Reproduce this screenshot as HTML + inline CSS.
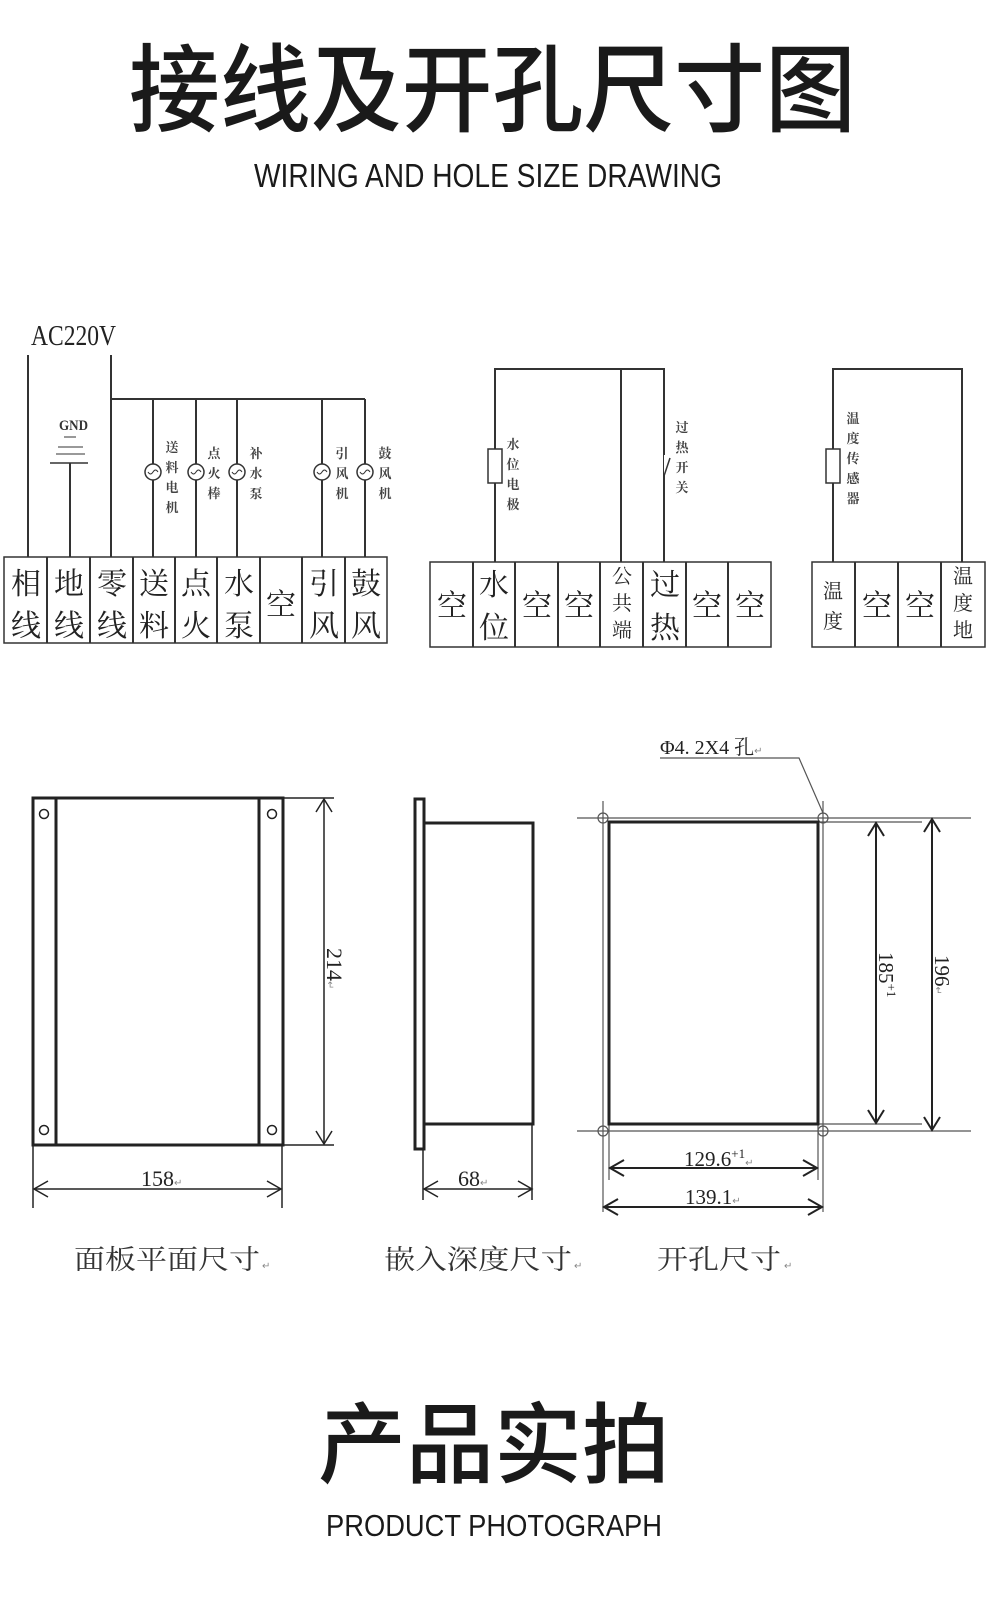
<!DOCTYPE html>
<html><head><meta charset="utf-8"><style>
html,body{margin:0;padding:0;background:#fff;}
svg{display:block;}
.cj{font-family:"Liberation Serif","Noto Serif CJK SC",serif;}
.sn{font-family:"Liberation Sans","Noto Sans CJK SC",sans-serif;}
</style></head><body>
<svg width="1000" height="1608" viewBox="0 0 1000 1608" xmlns="http://www.w3.org/2000/svg">
<rect width="1000" height="1608" fill="#fff"/>
<!-- Titles -->
<text x="129" y="124" font-size="96" font-weight="500" fill="#1a1a1a" textLength="727" lengthAdjust="spacingAndGlyphs" font-family="Liberation Sans, Noto Sans CJK SC, sans-serif">接线及开孔尺寸图</text>
<text x="254" y="187" font-family="Liberation Sans, sans-serif" font-size="33" fill="#1a1a1a" textLength="468" lengthAdjust="spacingAndGlyphs">WIRING AND HOLE SIZE DRAWING</text>
<text x="318" y="1476" font-family="Liberation Sans, Noto Sans CJK SC, sans-serif" font-size="88" font-weight="500" fill="#1a1a1a" textLength="352" lengthAdjust="spacingAndGlyphs">产品实拍</text>
<text x="326" y="1536" font-family="Liberation Sans, sans-serif" font-size="31" fill="#1a1a1a" textLength="336" lengthAdjust="spacingAndGlyphs">PRODUCT PHOTOGRAPH</text>

<g stroke="#333" stroke-width="2" fill="none">
<!-- block1 wiring -->
<line x1="28" y1="355" x2="28" y2="557"/>
<line x1="111" y1="355" x2="111" y2="557"/>
<line x1="111" y1="399" x2="365" y2="399"/>
<line x1="153" y1="399" x2="153" y2="557"/>
<line x1="196" y1="399" x2="196" y2="557"/>
<line x1="237" y1="399" x2="237" y2="557"/>
<line x1="322" y1="399" x2="322" y2="557"/>
<line x1="365" y1="399" x2="365" y2="557"/>
<line x1="70" y1="463" x2="70" y2="557"/>
<line x1="64" y1="437" x2="76" y2="437" stroke-width="1"/>
<line x1="58" y1="447" x2="83" y2="447" stroke-width="1"/>
<line x1="56" y1="454" x2="85" y2="454" stroke-width="1"/>
<line x1="50" y1="463" x2="88" y2="463" stroke-width="1.5"/>
<g fill="#fff" stroke-width="1.5">
<circle cx="153" cy="472" r="8"/><circle cx="196" cy="472" r="8"/><circle cx="237" cy="472" r="8"/><circle cx="322" cy="472" r="8"/><circle cx="365" cy="472" r="8"/>
</g>
<g stroke-width="1">
<path d="M148 472 q2.5 4 5 0 q2.5 -4 5 0"/><path d="M191 472 q2.5 4 5 0 q2.5 -4 5 0"/><path d="M232 472 q2.5 4 5 0 q2.5 -4 5 0"/><path d="M317 472 q2.5 4 5 0 q2.5 -4 5 0"/><path d="M360 472 q2.5 4 5 0 q2.5 -4 5 0"/>
</g>
<rect x="4" y="557" width="383" height="86" stroke-width="1.5"/>
<line x1="47" y1="557" x2="47" y2="643"/><line x1="90" y1="557" x2="90" y2="643"/><line x1="133" y1="557" x2="133" y2="643"/><line x1="175" y1="557" x2="175" y2="643"/><line x1="217" y1="557" x2="217" y2="643"/><line x1="260" y1="557" x2="260" y2="643"/><line x1="302" y1="557" x2="302" y2="643"/><line x1="345" y1="557" x2="345" y2="643"/>

<!-- block2 -->
<path d="M495 562 V369 H664 V562"/>
<line x1="621" y1="369" x2="621" y2="562"/>
<rect x="488" y="449" width="14" height="34" fill="#fff" stroke-width="1.5"/>
<rect x="664" y="455" width="4" height="20" fill="#fff" stroke="none"/>
<line x1="664" y1="476" x2="670" y2="458" stroke-width="1.5"/>
<rect x="430" y="562" width="341" height="85" stroke-width="1.5"/>
<line x1="473" y1="562" x2="473" y2="647"/><line x1="515" y1="562" x2="515" y2="647"/><line x1="558" y1="562" x2="558" y2="647"/><line x1="600" y1="562" x2="600" y2="647"/><line x1="643" y1="562" x2="643" y2="647"/><line x1="686" y1="562" x2="686" y2="647"/><line x1="728" y1="562" x2="728" y2="647"/>

<!-- block3 -->
<path d="M833 562 V369 H962 V562"/>
<rect x="826" y="449" width="14" height="34" fill="#fff" stroke-width="1.5"/>
<rect x="812" y="562" width="173" height="85" stroke-width="1.5"/>
<line x1="855" y1="562" x2="855" y2="647"/><line x1="898" y1="562" x2="898" y2="647"/><line x1="941" y1="562" x2="941" y2="647"/>
</g>

<!-- wiring labels -->
<text x="31" y="345" font-family="Liberation Serif, serif" font-size="28" fill="#222" textLength="85" lengthAdjust="spacingAndGlyphs">AC220V</text>
<text x="59" y="430" font-family="Liberation Serif, serif" font-size="15" font-weight="700" fill="#333" textLength="29" lengthAdjust="spacingAndGlyphs">GND</text>
<g class="cj" font-size="13" font-weight="700" fill="#444" text-anchor="middle">
<text x="172" y="452">送</text><text x="172" y="472">料</text><text x="172" y="492">电</text><text x="172" y="512">机</text>
<text x="214" y="458">点</text><text x="214" y="478">火</text><text x="214" y="498">棒</text>
<text x="256" y="458">补</text><text x="256" y="478">水</text><text x="256" y="498">泵</text>
<text x="342" y="458">引</text><text x="342" y="478">风</text><text x="342" y="498">机</text>
<text x="385" y="458">鼓</text><text x="385" y="478">风</text><text x="385" y="498">机</text>
<text x="513" y="449">水</text><text x="513" y="469">位</text><text x="513" y="489">电</text><text x="513" y="509">极</text>
<text x="682" y="432">过</text><text x="682" y="452">热</text><text x="682" y="472">开</text><text x="682" y="492">关</text>
<text x="853" y="423">温</text><text x="853" y="443">度</text><text x="853" y="463">传</text><text x="853" y="483">感</text><text x="853" y="503">器</text>
</g>
<!-- terminal labels -->
<g class="cj" font-size="30" fill="#222" text-anchor="middle">
<text x="26" y="594">相</text><text x="26" y="636">线</text>
<text x="69" y="594">地</text><text x="69" y="636">线</text>
<text x="112" y="594">零</text><text x="112" y="636">线</text>
<text x="154" y="594">送</text><text x="154" y="636">料</text>
<text x="196" y="594">点</text><text x="196" y="636">火</text>
<text x="239" y="594">水</text><text x="239" y="636">泵</text>
<text x="281" y="615">空</text>
<text x="324" y="594">引</text><text x="324" y="636">风</text>
<text x="366" y="594">鼓</text><text x="366" y="636">风</text>
<text x="452" y="616">空</text>
<text x="494" y="595">水</text><text x="494" y="638">位</text>
<text x="537" y="616">空</text><text x="579" y="616">空</text>
<text x="665" y="595">过</text><text x="665" y="638">热</text>
<text x="707" y="616">空</text><text x="750" y="616">空</text>
<text x="877" y="616">空</text><text x="920" y="616">空</text>
</g>
<g class="cj" font-size="20" fill="#222" text-anchor="middle">
<text x="622" y="583">公</text><text x="622" y="610">共</text><text x="622" y="637">端</text>
<text x="833" y="598">温</text><text x="833" y="628">度</text>
<text x="963" y="583">温</text><text x="963" y="610">度</text><text x="963" y="637">地</text>
</g>

<!-- Panel front -->
<g stroke="#222" fill="none">
<rect x="33" y="798" width="250" height="347" stroke-width="3"/>
<line x1="56" y1="798" x2="56" y2="1145" stroke-width="3"/>
<line x1="259" y1="798" x2="259" y2="1145" stroke-width="3"/>
<g stroke-width="1.5"><circle cx="44" cy="814" r="4.5"/><circle cx="272" cy="814" r="4.5"/><circle cx="44" cy="1130" r="4.5"/><circle cx="272" cy="1130" r="4.5"/></g>
<g stroke-width="1.5">
<line x1="283" y1="798" x2="334" y2="798"/><line x1="283" y1="1145" x2="334" y2="1145"/>
<line x1="324" y1="799" x2="324" y2="1144"/>
<path d="M316 812 L324 799 L332 812 M316 1131 L324 1144 L332 1131"/>
<line x1="33" y1="1145" x2="33" y2="1208"/><line x1="282" y1="1145" x2="282" y2="1208"/>
<line x1="34" y1="1189" x2="281" y2="1189"/>
<path d="M48 1181 L34 1189 L48 1197 M267 1181 L281 1189 L267 1197"/>
</g>
<!-- side -->
<rect x="415" y="799" width="9" height="350" stroke-width="3"/>
<rect x="424" y="823" width="109" height="301" stroke-width="3"/>
<g stroke-width="1.5">
<line x1="423" y1="1149" x2="423" y2="1200"/><line x1="532" y1="1124" x2="532" y2="1200"/>
<line x1="424" y1="1189" x2="532" y2="1189"/>
<path d="M438 1181 L424 1189 L438 1197 M518 1181 L532 1189 L518 1197"/>
</g>
<!-- cutout -->
<g stroke-width="1.2" stroke="#555">
<line x1="577" y1="818" x2="971" y2="818"/><line x1="577" y1="1131" x2="971" y2="1131"/>
<line x1="603" y1="801" x2="603" y2="1212"/><line x1="823" y1="801" x2="823" y2="1212"/>
<line x1="609" y1="1124" x2="609" y2="1180"/><line x1="818" y1="1124" x2="818" y2="1180"/>
<line x1="818" y1="822" x2="922" y2="822"/><line x1="818" y1="1124" x2="922" y2="1124"/>
<circle cx="603" cy="818" r="5"/><circle cx="823" cy="818" r="5"/><circle cx="603" cy="1131" r="5"/><circle cx="823" cy="1131" r="5"/>
<path d="M660 758 H799 L823 813"/>
</g>
<rect x="609" y="822" width="209" height="302" stroke-width="3"/>
<g stroke-width="2">
<line x1="876" y1="823" x2="876" y2="1123"/>
<path d="M868 836 L876 823 L884 836 M868 1110 L876 1123 L884 1110"/>
<line x1="932" y1="819" x2="932" y2="1130"/>
<path d="M924 832 L932 819 L940 832 M924 1117 L932 1130 L940 1117"/>
<line x1="610" y1="1168" x2="817" y2="1168"/>
<path d="M624 1160 L610 1168 L624 1176 M803 1160 L817 1168 L803 1176"/>
<line x1="604" y1="1207" x2="822" y2="1207"/>
<path d="M618 1199 L604 1207 L618 1215 M808 1199 L822 1207 L808 1215"/>
</g>
</g>
<!-- dimension texts -->
<g font-family="Liberation Serif, serif" fill="#222" font-size="22">
<text x="141" y="1186">158<tspan font-size="10" fill="#888">↵</tspan></text>
<text x="458" y="1186">68<tspan font-size="10" fill="#888">↵</tspan></text>
<text x="684" y="1166" font-size="21">129.6<tspan font-size="13" dy="-8">+1</tspan><tspan font-size="10" fill="#888" dy="8">↵</tspan></text>
<text x="685" y="1204" font-size="21">139.1<tspan font-size="10" fill="#888">↵</tspan></text>
<text transform="translate(327,948) rotate(90)">214<tspan font-size="10" fill="#888">↵</tspan></text>
<text transform="translate(879,952) rotate(90)" font-size="21">185<tspan font-size="13" dy="-8">+1</tspan></text>
<text transform="translate(935,955) rotate(90)" font-size="21">196<tspan font-size="10" fill="#888">↵</tspan></text>
<text x="660" y="754" font-size="20" font-family="Liberation Serif, Noto Serif CJK SC, serif">Φ4. 2X4 孔<tspan font-size="10" fill="#888">↵</tspan></text>
</g>
<g font-family="Liberation Serif, Noto Serif CJK SC, serif" font-size="27" fill="#333">
<text x="74" y="1269" textLength="186" lengthAdjust="spacingAndGlyphs">面板平面尺寸</text><text x="262" y="1269" font-size="10" fill="#888">↵</text>
<text x="384" y="1269" textLength="188" lengthAdjust="spacingAndGlyphs">嵌入深度尺寸</text><text x="574" y="1269" font-size="10" fill="#888">↵</text>
<text x="657" y="1269" textLength="124" lengthAdjust="spacingAndGlyphs">开孔尺寸</text><text x="784" y="1269" font-size="10" fill="#888">↵</text>
</g>
</svg>
</body></html>
